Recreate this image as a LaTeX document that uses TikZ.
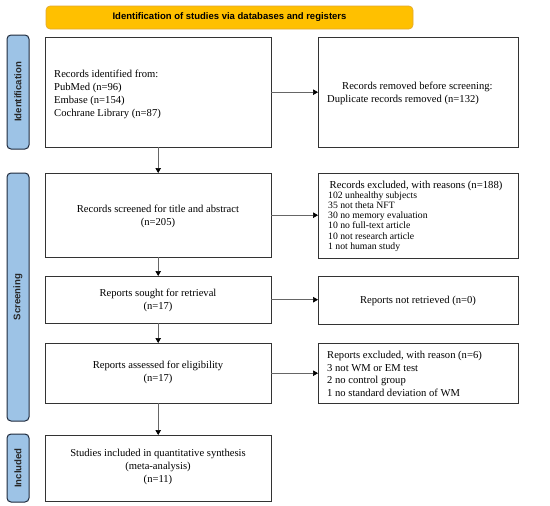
\documentclass[tikz,border=0pt]{standalone}
\usepackage{fontspec}
\setmainfont{Liberation Serif}
\newfontfamily\hdfont{Liberation Sans}
\usetikzlibrary{arrows.meta}
\definecolor{bannerfill}{HTML}{FFC000}
\definecolor{bannerline}{HTML}{E0A830}
\definecolor{barfill}{HTML}{9DC3E6}
\definecolor{barline}{HTML}{1F2A3C}
\definecolor{boxline}{HTML}{333333}
\definecolor{arrline}{HTML}{666666}
\tikzset{
  flowbox/.style={draw=boxline,line width=0.9pt,fill=white},
  banner/.style={draw=bannerline,fill=bannerfill,line width=0.6pt,rounded corners=4pt},
  sidebar/.style={draw=barline,fill=barfill,line width=1pt,rounded corners=4pt},
  sidelabel/.style={rotate=90,font=\hdfont\bfseries\fontsize{9.6}{11}\selectfont,text=black!85},
  maintext/.style={font=\fontsize{10.6}{13}\selectfont,inner sep=0pt},
  frame/.style={anchor=north west,inner sep=0pt},
  flowarrow/.style={draw=arrline,line width=0.7pt,-{Triangle[length=5pt,width=5.5pt,color=black]}},
}
\begin{document}
\begin{tikzpicture}[x=1pt,y=-1pt]
\useasboundingbox (0,0) rectangle (550,506);
% banner
\draw[banner] (46,6) rectangle (413,29);
\node[font=\hdfont\bfseries\fontsize{9.5}{11}\selectfont] (bannertext) at (229.5,17.5) {Identification of studies via databases and registers};
% side bars
\draw[sidebar] (7,35) rectangle (29,149);
\node[sidelabel] (lid) at (18,92) {Identification};
\draw[sidebar] (7,173) rectangle (29,421);
\node[sidelabel] (lscr) at (18,297) {Screening};
\draw[sidebar] (7,434) rectangle (29,502);
\node[sidelabel] (linc) at (18,468) {Included};
% boxes
\node[frame,minimum width=226pt,minimum height=110pt] (id) at (45,37) {};
\draw[flowbox] (id.north west) rectangle (id.south east);
\node[maintext,align=left,anchor=west] (idtext) at (54,94) {Records identified from:\\PubMed (n=96)\\Embase (n=154)\\Cochrane Library (n=87)};

\node[frame,minimum width=200pt,minimum height=110pt] (dup) at (318,37) {};
\draw[flowbox] (dup.north west) rectangle (dup.south east);
\node[maintext,align=left,anchor=west] (duptext) at (327,93) {\hspace{15pt}Records removed before screening:\\Duplicate records removed (n=132)};

\node[frame,minimum width=226pt,minimum height=84pt] (scr) at (45,173) {};
\draw[flowbox] (scr.north west) rectangle (scr.south east);
\node[maintext,align=center] (scrtext) at (158,216) {Records screened for title and abstract\\(n=205)};

\node[frame,minimum width=200pt,minimum height=85pt] (exc) at (318,173) {};
\draw[flowbox] (exc.north west) rectangle (exc.south east);
\node[inner sep=0pt,align=left,anchor=west,font=\fontsize{9.7}{10.2}\selectfont] (exctext) at (328,216) {\hspace{1.5pt}{\fontsize{10.7}{10.2}\selectfont Records excluded, with reasons (n=188)}\\102 unhealthy subjects\\35 not theta NFT\\30 no memory evaluation\\10 no full-text article\\10 not research article\\1 not human study};

\node[frame,minimum width=226pt,minimum height=47pt] (sought) at (45,276) {};
\draw[flowbox] (sought.north west) rectangle (sought.south east);
\node[maintext,align=center] (soughttext) at (158,300) {Reports sought for retrieval\\(n=17)};

\node[frame,minimum width=200pt,minimum height=48pt] (notret) at (318,276) {};
\draw[flowbox] (notret.north west) rectangle (notret.south east);
\node[maintext] (notrettext) at (418,301) {Reports not retrieved (n=0)};

\node[frame,minimum width=226pt,minimum height=60pt] (assess) at (45,343) {};
\draw[flowbox] (assess.north west) rectangle (assess.south east);
\node[maintext,align=center] (assesstext) at (158,372) {Reports assessed for eligibility\\(n=17)};

\node[frame,minimum width=200pt,minimum height=60pt] (exc2) at (318,343) {};
\draw[flowbox] (exc2.north west) rectangle (exc2.south east);
\node[inner sep=0pt,align=left,anchor=west,font=\fontsize{10.6}{12.5}\selectfont] (exc2text) at (327,374) {Reports excluded, with reason (n=6)\\3 not WM or EM test\\2 no control group\\1 no standard deviation of WM};

\node[frame,minimum width=226pt,minimum height=66pt] (incl) at (45,435) {};
\draw[flowbox] (incl.north west) rectangle (incl.south east);
\node[maintext,align=center] (incltext) at (158,467) {Studies included in quantitative synthesis\\(meta-analysis)\\(n=11)};

% arrows
\draw[flowarrow] (id.east) -- (dup.west);
\draw[flowarrow] (scr.east) -- (exc.west |- scr.east);
\draw[flowarrow] (sought.east) -- (notret.west |- sought.east);
\draw[flowarrow] (assess.east) -- (exc2.west |- assess.east);
\draw[flowarrow] (id.south) -- (scr.north);
\draw[flowarrow] (scr.south) -- (sought.north);
\draw[flowarrow] (sought.south) -- (assess.north);
\draw[flowarrow] (assess.south) -- (incl.north);
\end{tikzpicture}
\end{document}
